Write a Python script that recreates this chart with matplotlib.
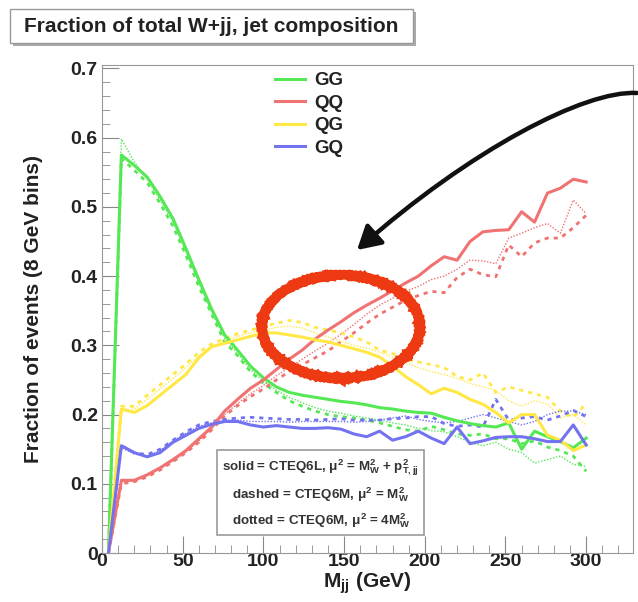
import numpy as np
import matplotlib
matplotlib.use("Agg")
import matplotlib.pyplot as plt
from matplotlib.patches import Ellipse, FancyArrowPatch, Rectangle
from matplotlib.path import Path
from matplotlib.ticker import MultipleLocator

plt.rcParams['font.family'] = ['Liberation Sans', 'DejaVu Sans']
plt.rcParams['mathtext.fontset'] = 'custom'
plt.rcParams['mathtext.rm'] = 'Liberation Sans:bold'
plt.rcParams['mathtext.it'] = 'Liberation Sans:bold'
plt.rcParams['mathtext.bf'] = 'Liberation Sans:bold'

# ---------------- data ----------------
mjj = [4, 12, 20, 28, 36, 44, 52, 60, 68, 76, 84, 92, 100, 108, 116, 124, 132, 140, 148,
       156, 164, 172, 180, 188, 196, 204, 212, 220, 228, 236, 244, 252, 260, 268, 276, 284, 292, 300]

gg_solid = [0.0, 0.575, 0.560, 0.543, 0.515, 0.483, 0.440, 0.395, 0.352, 0.315, 0.293, 0.270, 0.253,
            0.240, 0.232, 0.228, 0.225, 0.222, 0.219, 0.217, 0.214, 0.210, 0.208, 0.205, 0.203, 0.202,
            0.196, 0.191, 0.187, 0.184, 0.182, 0.188, 0.150, 0.176, 0.168, 0.161, 0.152, 0.166]
gg_dashed = [0.0, 0.570, 0.553, 0.535, 0.505, 0.472, 0.430, 0.385, 0.345, 0.305, 0.285, 0.262, 0.245,
             0.232, 0.220, 0.212, 0.205, 0.200, 0.197, 0.195, 0.192, 0.188, 0.183, 0.178, 0.176, 0.183,
             0.178, 0.172, 0.170, 0.172, 0.165, 0.165, 0.158, 0.162, 0.153, 0.148, 0.140, 0.118]
gg_dotted = [0.0, 0.598, 0.565, 0.540, 0.510, 0.478, 0.435, 0.390, 0.348, 0.310, 0.288, 0.265, 0.248,
             0.235, 0.225, 0.217, 0.210, 0.205, 0.202, 0.198, 0.195, 0.192, 0.188, 0.185, 0.180, 0.177,
             0.175, 0.168, 0.160, 0.155, 0.160, 0.150, 0.145, 0.130, 0.135, 0.140, 0.128, 0.125]

qq_solid = [0.0, 0.105, 0.105, 0.113, 0.123, 0.135, 0.148, 0.165, 0.182, 0.205, 0.222, 0.238, 0.250,
            0.265, 0.280, 0.293, 0.309, 0.322, 0.334, 0.347, 0.358, 0.368, 0.379, 0.390, 0.400, 0.415,
            0.428, 0.423, 0.450, 0.464, 0.466, 0.467, 0.493, 0.478, 0.520, 0.527, 0.540, 0.536]
qq_dashed = [0.0, 0.100, 0.103, 0.110, 0.120, 0.132, 0.145, 0.160, 0.178, 0.198, 0.213, 0.226, 0.237,
             0.250, 0.262, 0.272, 0.282, 0.292, 0.305, 0.318, 0.332, 0.345, 0.355, 0.365, 0.372, 0.378,
             0.376, 0.398, 0.410, 0.402, 0.399, 0.445, 0.428, 0.448, 0.455, 0.455, 0.470, 0.488]
qq_dotted = [0.0, 0.103, 0.104, 0.112, 0.122, 0.133, 0.146, 0.162, 0.180, 0.200, 0.216, 0.230, 0.242,
             0.256, 0.268, 0.280, 0.292, 0.303, 0.316, 0.330, 0.345, 0.358, 0.368, 0.378, 0.385, 0.395,
             0.400, 0.410, 0.423, 0.422, 0.418, 0.455, 0.462, 0.470, 0.476, 0.462, 0.510, 0.490]

qg_solid = [0.0, 0.208, 0.203, 0.213, 0.228, 0.243, 0.258, 0.282, 0.298, 0.303, 0.308, 0.313, 0.318,
            0.318, 0.315, 0.312, 0.308, 0.305, 0.300, 0.295, 0.290, 0.283, 0.270, 0.255, 0.243, 0.230,
            0.238, 0.232, 0.222, 0.215, 0.203, 0.188, 0.200, 0.200, 0.170, 0.163, 0.148, 0.156]
qg_dashed = [0.0, 0.212, 0.212, 0.228, 0.243, 0.258, 0.273, 0.290, 0.302, 0.310, 0.317, 0.322, 0.327,
             0.332, 0.336, 0.333, 0.326, 0.322, 0.318, 0.312, 0.305, 0.293, 0.288, 0.280, 0.276, 0.272,
             0.268, 0.255, 0.250, 0.260, 0.232, 0.240, 0.235, 0.230, 0.225, 0.205, 0.196, 0.216]
qg_dotted = [0.0, 0.205, 0.208, 0.222, 0.237, 0.252, 0.268, 0.285, 0.298, 0.307, 0.313, 0.318, 0.322,
             0.326, 0.328, 0.325, 0.318, 0.312, 0.306, 0.300, 0.296, 0.290, 0.283, 0.275, 0.268, 0.262,
             0.258, 0.252, 0.245, 0.240, 0.235, 0.220, 0.212, 0.220, 0.215, 0.195, 0.200, 0.185]

gq_solid = [0.0, 0.155, 0.145, 0.139, 0.145, 0.160, 0.170, 0.180, 0.186, 0.190, 0.190, 0.185, 0.182,
            0.184, 0.182, 0.180, 0.180, 0.181, 0.179, 0.172, 0.168, 0.176, 0.163, 0.168, 0.176, 0.166,
            0.158, 0.182, 0.158, 0.162, 0.167, 0.168, 0.168, 0.165, 0.161, 0.161, 0.185, 0.156]
gq_dashed = [0.0, 0.155, 0.145, 0.142, 0.150, 0.163, 0.175, 0.185, 0.190, 0.193, 0.195, 0.196, 0.195,
             0.194, 0.193, 0.193, 0.192, 0.193, 0.194, 0.192, 0.192, 0.192, 0.194, 0.195, 0.197, 0.197,
             0.187, 0.183, 0.185, 0.182, 0.222, 0.192, 0.195, 0.197, 0.192, 0.198, 0.206, 0.197]
gq_dotted = [0.0, 0.152, 0.143, 0.140, 0.148, 0.162, 0.173, 0.183, 0.188, 0.192, 0.192, 0.190, 0.190,
             0.190, 0.189, 0.190, 0.190, 0.190, 0.190, 0.189, 0.190, 0.192, 0.195, 0.198, 0.193, 0.190,
             0.188, 0.190, 0.195, 0.200, 0.195, 0.190, 0.185, 0.190, 0.200, 0.205, 0.205, 0.200]

labels = ["GG", "QQ", "QG", "GQ"]
colors = ["#55e855", "#f07272", "#ffe845", "#7373f0"]
ytick_labels = ['0', '0.1', '0.2', '0.3', '0.4', '0.5', '0.6', '0.7']

# ---------------- figure ----------------
fig = plt.figure(figsize=(6.38, 6.02), dpi=100)
ax = fig.add_axes([102 / 638, 49 / 602, 531 / 638, 488 / 602])

series = [(gg_solid, gg_dashed, gg_dotted), (qq_solid, qq_dashed, qq_dotted),
          (qg_solid, qg_dashed, qg_dotted), (gq_solid, gq_dashed, gq_dotted)]
handles = []
for (s, d, o), c, lab in zip(series, colors, labels):
    ax.plot(mjj, o, color=c, lw=1.0, ls=(0, (1, 1.2)), zorder=2)
    ax.plot(mjj, d, color=c, lw=2.0, ls=(0, (1.5, 1.8)), zorder=2)
    h, = ax.plot(mjj, s, color=c, lw=2.2, ls='-', zorder=3, label=lab)
    handles.append(h)

ax.set_xlim(0, 329)
ax.set_ylim(0, 0.705)
ax.xaxis.set_major_locator(MultipleLocator(50))
ax.xaxis.set_minor_locator(MultipleLocator(10))
ax.yaxis.set_minor_locator(MultipleLocator(0.02))
ax.set_yticks([0, 0.1, 0.2, 0.3, 0.4, 0.5, 0.6, 0.7])
ax.set_yticklabels(ytick_labels)
ax.tick_params(which='both', direction='in', color='#888888')
ax.tick_params(which='major', length=12, labelsize=14)
ax.tick_params(axis='x', which='major', pad=0)
ax.tick_params(axis='y', which='major', pad=3)
ax.tick_params(which='minor', length=6)
for sp in ax.spines.values():
    sp.set_color('#999999')
for t in ax.get_xticklabels() + ax.get_yticklabels():
    t.set_fontweight('bold')
    t.set_color('#222222')

ax.set_xlabel(r"M$_{\rm jj}$ (GeV)", fontsize=15, fontweight='bold', color='#222222', labelpad=0)
ax.set_ylabel("Fraction of events (8 GeV bins)", fontsize=15, fontweight='bold', color='#222222',
              labelpad=20)

leg = ax.legend(handles=handles, labels=labels, loc='upper left', bbox_to_anchor=(0.325, 0.985),
                frameon=False, fontsize=13.5, handlelength=1.6, handletextpad=0.5,
                labelspacing=0.28, borderaxespad=0, borderpad=0)
for t in leg.get_texts():
    t.set_fontweight('bold')
    t.set_color('#222222')

# info box
info = ("solid = CTEQ6L, $\\mu^2$ = M$_W^2$ + p$_{T,jj}^2$\n"
        "dashed = CTEQ6M, $\\mu^2$ = M$_W^2$\n"
        "dotted = CTEQ6M, $\\mu^2$ = 4M$_W^2$")
ax.text(0.412, 0.122, info, transform=ax.transAxes, ha='center', va='center', fontsize=9.6,
        fontweight='bold', color='#333333', linespacing=1.55,
        bbox=dict(boxstyle='square,pad=0.4', fc='white', ec='#999999', lw=1.2), zorder=6)

# highlight ellipse
ell = Ellipse((148, 0.327), 98, 0.149, fill=False, ec='#ee3a12', lw=7, zorder=7)
ell.set_sketch_params(scale=0.6, length=1.5, randomness=2)
ax.add_patch(ell)

# title box with shadow
fig.patches.append(Rectangle((13 / 638, 1 - 46 / 602), 403 / 638, 34 / 602, transform=fig.transFigure,
                             fc='#aaaaaa', ec='none', zorder=0))
fig.patches.append(Rectangle((10 / 638, 1 - 43 / 602), 403 / 638, 34 / 602, transform=fig.transFigure,
                             fc='white', ec='#999999', lw=1.0, zorder=1))
fig.text(24 / 638, 1 - 26 / 602, "Fraction of total W+jj, jet composition", fontsize=15,
         fontweight='bold', color='#222222', va='center', ha='left', zorder=2)

# curved arrow (figure pixel coordinates, y from bottom)
H = 602
verts = [(637, H - 93), (585, H - 90), (470, H - 150), (357, H - 250)]
path = Path(verts, [Path.MOVETO, Path.CURVE4, Path.CURVE4, Path.CURVE4])
arr = FancyArrowPatch(path=path, arrowstyle='-|>,head_length=14,head_width=8', color='#111111',
                      lw=3.2, transform=None, zorder=10)
fig.patches.append(arr)

fig.savefig("out.png", dpi=100)
